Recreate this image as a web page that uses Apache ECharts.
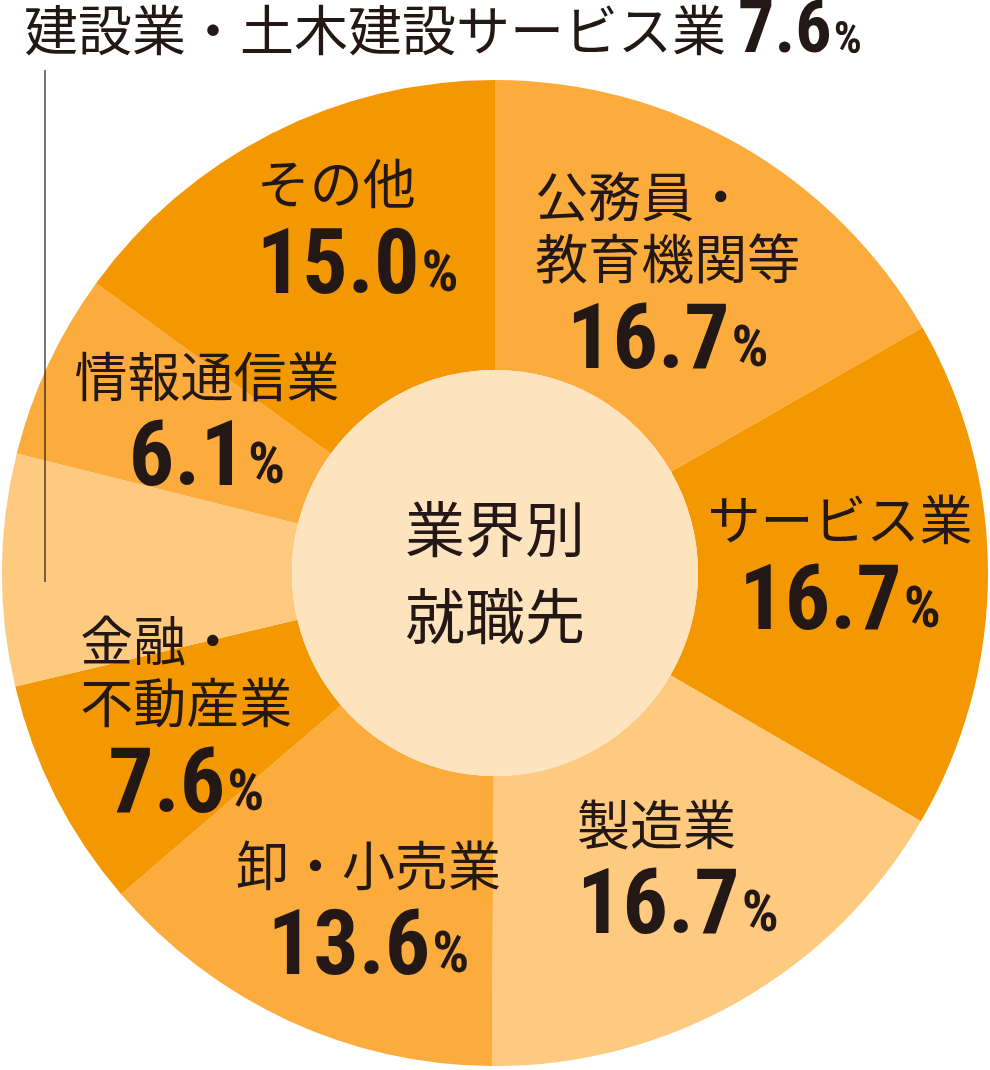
<!DOCTYPE html>
<html><head><meta charset="utf-8">
<script src="https://cdn.jsdelivr.net/npm/echarts@6/dist/echarts.min.js"></script>
<style>html,body{margin:0;padding:0;background:#fff}#c{width:990px;height:1070px}</style>
</head><body><div id="c"></div>
<script>
const categories = ['公務員・\n教育機関等','サービス業','製造業','卸・小売業','金融・\n不動産業','建設業・土木建設サービス業','情報通信業','その他'];
const shares = [16.7,16.7,16.7,13.6,7.6,7.6,6.1,15.0];
const centerTitle = ['業界別','就職先'];
const sliceColors = ['#FBAC3C','#F39800','#FDCA80','#FBAC3C','#F39800','#FDCA80','#FBAC3C','#F39800'];
const labelShift = [[-3,9],[-6,-4],[9,-3],[21,24],[4,-10],null,[30,2],[22,-26]];
const calloutIndex = 5;

const INK = '#231815';
const JP = "'Noto Sans CJK JP','Noto Sans',sans-serif";
const NUM = "'Roboto Condensed','Liberation Sans Narrow','DejaVu Sans Condensed','Roboto',sans-serif";
const NUMW = 'bold condensed';
const CENTER = ['50%', 573];

const chart = echarts.init(document.getElementById('c'));

const pieData = categories.map((name, i) => {
  const item = { name: name, value: shares[i], itemStyle: { color: sliceColors[i] } };
  if (i === calloutIndex) {
    item.label = { position: 'outside' };
  }
  return item;
});

function fmt(p) {
  const val = p.value.toFixed(1);
  if (p.dataIndex === calloutIndex) {
    return '{t|' + p.name + '}{w|' + val + '}{q|%}';
  }
  const lines = p.name.split('\n').map(s => '{n|' + s + '}');
  return lines.join('\n') + '\n{v|' + val + '}{p|%}';
}

chart.setOption({
  animation: false,
  graphic: [{
    type: 'line', z: 100, silent: true,
    shape: { x1: 45, y1: 70, x2: 45, y2: 582 },
    style: { stroke: INK, lineWidth: 1.2 }
  }],
  series: [
    {
      type: 'pie',
      center: CENTER,
      radius: [203, 493],
      startAngle: 90,
      clockwise: true,
      avoidLabelOverlap: false,
      silent: true,
      emphasis: { disabled: true },
      itemStyle: { borderWidth: 0 },
      labelLine: { show: false },
      label: {
        show: true,
        position: 'inside',
        color: INK,
        formatter: fmt,
        rich: {
          n: { fontFamily: JP, fontSize: 53, lineHeight: 62, color: INK, align: 'left' },
          v: { fontFamily: NUM, fontSize: 90, fontWeight: NUMW, lineHeight: 100, color: INK, align: 'center', verticalAlign: 'bottom' },
          p: { fontFamily: NUM, fontSize: 58, fontWeight: NUMW, lineHeight: 58, color: INK, align: 'center', verticalAlign: 'bottom', padding: [0, 0, 10, 2] },
          t: { fontFamily: JP, fontSize: 54, lineHeight: 62, color: INK, verticalAlign: 'bottom', padding: [0, 0, 13, 0] },
          w: { fontFamily: NUM, fontSize: 72, fontWeight: NUMW, lineHeight: 72, color: INK, verticalAlign: 'bottom', padding: [0, 0, 0, 12] },
          q: { fontFamily: NUM, fontSize: 44, fontWeight: NUMW, lineHeight: 44, color: INK, verticalAlign: 'bottom', padding: [0, 0, 6, 2] }
        }
      },
      labelLayout: function (params) {
        if (params.dataIndex === calloutIndex) {
          return { x: 24, y: 34, align: 'left', verticalAlign: 'middle' };
        }
        const s = labelShift[params.dataIndex];
        return s ? { dx: s[0], dy: s[1] } : {};
      },
      data: pieData
    },
    {
      type: 'pie',
      center: CENTER,
      radius: [0, 203],
      silent: true,
      emphasis: { disabled: true },
      labelLine: { show: false },
      label: {
        show: true,
        position: 'center',
        formatter: centerTitle.map(s => '{c|' + s + '}').join('\n'),
        rich: {
          c: { fontFamily: JP, fontSize: 60, lineHeight: 87, color: INK }
        }
      },
      data: [{ name: centerTitle.join(''), value: 1, itemStyle: { color: '#FEE3BF' } }]
    }
  ]
});
</script>
</body></html>
